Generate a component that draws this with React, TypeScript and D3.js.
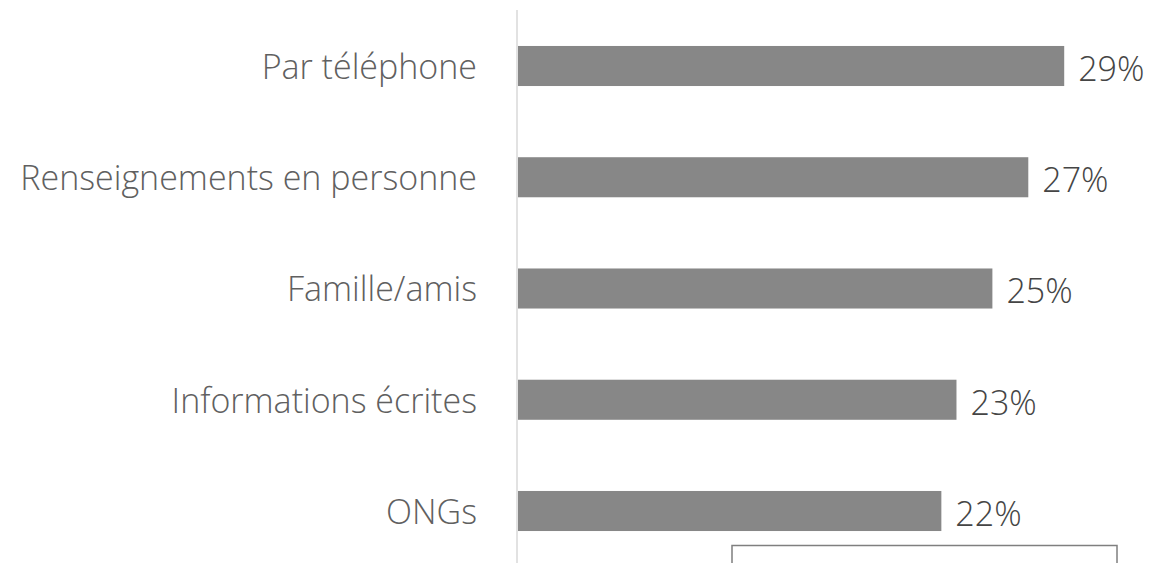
import React from 'react';
import * as d3 from 'd3';

const categories = [
  'Par téléphone',
  'Renseignements en personne',
  'Famille/amis',
  'Informations écrites',
  'ONGs',
];
const values = [28.9, 27.0, 25.1, 23.2, 22.4];
const valueLabels = ['29%', '27%', '25%', '23%', '22%'];

const W = 1150;
const H = 563;
const font = "'Open Sans', 'Segoe UI', sans-serif";

export default function App() {
  const x = d3.scaleLinear().domain([0, 30]).range([518, 518 + 567]);
  const y = d3
    .scaleBand<string>()
    .domain(categories)
    .range([10.375, 566.625])
    .paddingInner(0.64)
    .paddingOuter(0.32);

  return (
    <svg
      width={W}
      height={H}
      style={{ position: 'absolute', left: 0, top: 0, background: '#fff' }}
    >
      <line x1={517} x2={517} y1={10} y2={H} stroke="#d9d9d9" strokeWidth={1.5} />
      {categories.map((c, i) => {
        const yc = (y(c) as number) + y.bandwidth() / 2;
        return (
          <g key={c}>
            <rect
              x={x(0)}
              y={y(c)}
              width={x(values[i]) - x(0)}
              height={y.bandwidth()}
              fill="#878787"
            />
            <text
              x={477}
              y={yc + 1}
              dy="0.35em"
              textAnchor="end"
              fontFamily={font}
              fontWeight={300}
              fontSize={34}
              fill="#606060"
            >
              {c}
            </text>
            <text
              x={x(values[i]) + 14}
              y={yc + 3}
              dy="0.35em"
              fontFamily={font}
              fontWeight={300}
              fontSize={34}
              fill="#454545"
            >
              {valueLabels[i]}
            </text>
          </g>
        );
      })}
      <rect x={732} y={545.5} width={385} height={40} fill="none" stroke="#7f7f7f" strokeWidth={1.5} />
    </svg>
  );
}
